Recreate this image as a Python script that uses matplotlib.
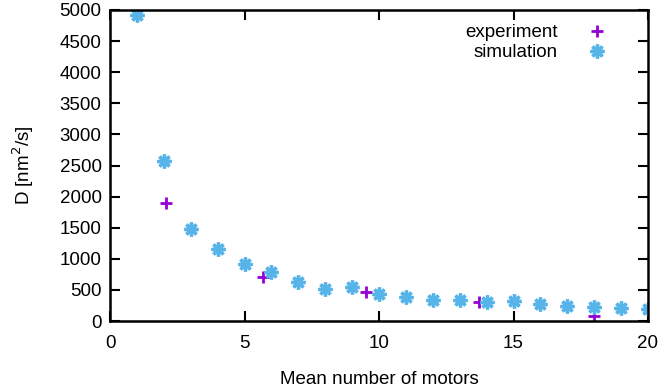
import numpy as np
import matplotlib.pyplot as plt

plt.rcParams['font.family'] = ['Liberation Sans', 'DejaVu Sans']

# simulation
sim_n = [1, 2, 3, 4, 5, 6, 7, 8, 9, 10, 11, 12, 13, 14, 15, 16, 17, 18, 19, 20]
sim_d = [4920, 2580, 1480, 1160, 920, 790, 630, 510, 540, 435, 385, 330, 330, 300, 315, 280, 235, 225, 215, 190]

# experiment
exp_n = [2.1, 5.7, 9.5, 13.7, 18.0]
exp_d = [1890, 710, 460, 310, 85]

fs = 13.5

fig = plt.figure(figsize=(6.68, 3.91), dpi=100)
ax = fig.add_axes([110/668, 70/391, 538/668, 311/391])

ax.plot(exp_n, exp_d, linestyle='none', marker='+', color='#9400d3',
        markersize=9, markeredgewidth=2, label='experiment')
ax.plot(sim_n, sim_d, linestyle='none', marker=(8, 2, 0), color='#56b4e9',
        markersize=10, markeredgewidth=2.4, label='simulation')

ax.set_xlim(0, 20)
ax.set_ylim(0, 5000)
ax.set_xticks([0, 5, 10, 15, 20])
ax.set_yticks(np.arange(0, 5001, 500))
ax.tick_params(direction='in', top=True, right=True, length=7, width=1.5,
               labelsize=fs)
ax.tick_params(axis='x', pad=10)
ax.tick_params(axis='y', pad=6)
for s in ax.spines.values():
    s.set_linewidth(1.8)

ax.set_xlabel('Mean number of motors', fontsize=fs, labelpad=14)
ax.set_ylabel('D [nm$^2$/s]', fontsize=fs, labelpad=17)

ax.legend(loc='upper right', bbox_to_anchor=(0.957, 0.979), frameon=False,
          fontsize=fs, markerfirst=False, handletextpad=1.0,
          borderaxespad=0.0, labelspacing=0.15, handlelength=2.2)

fig.savefig('out.png', dpi=100)
